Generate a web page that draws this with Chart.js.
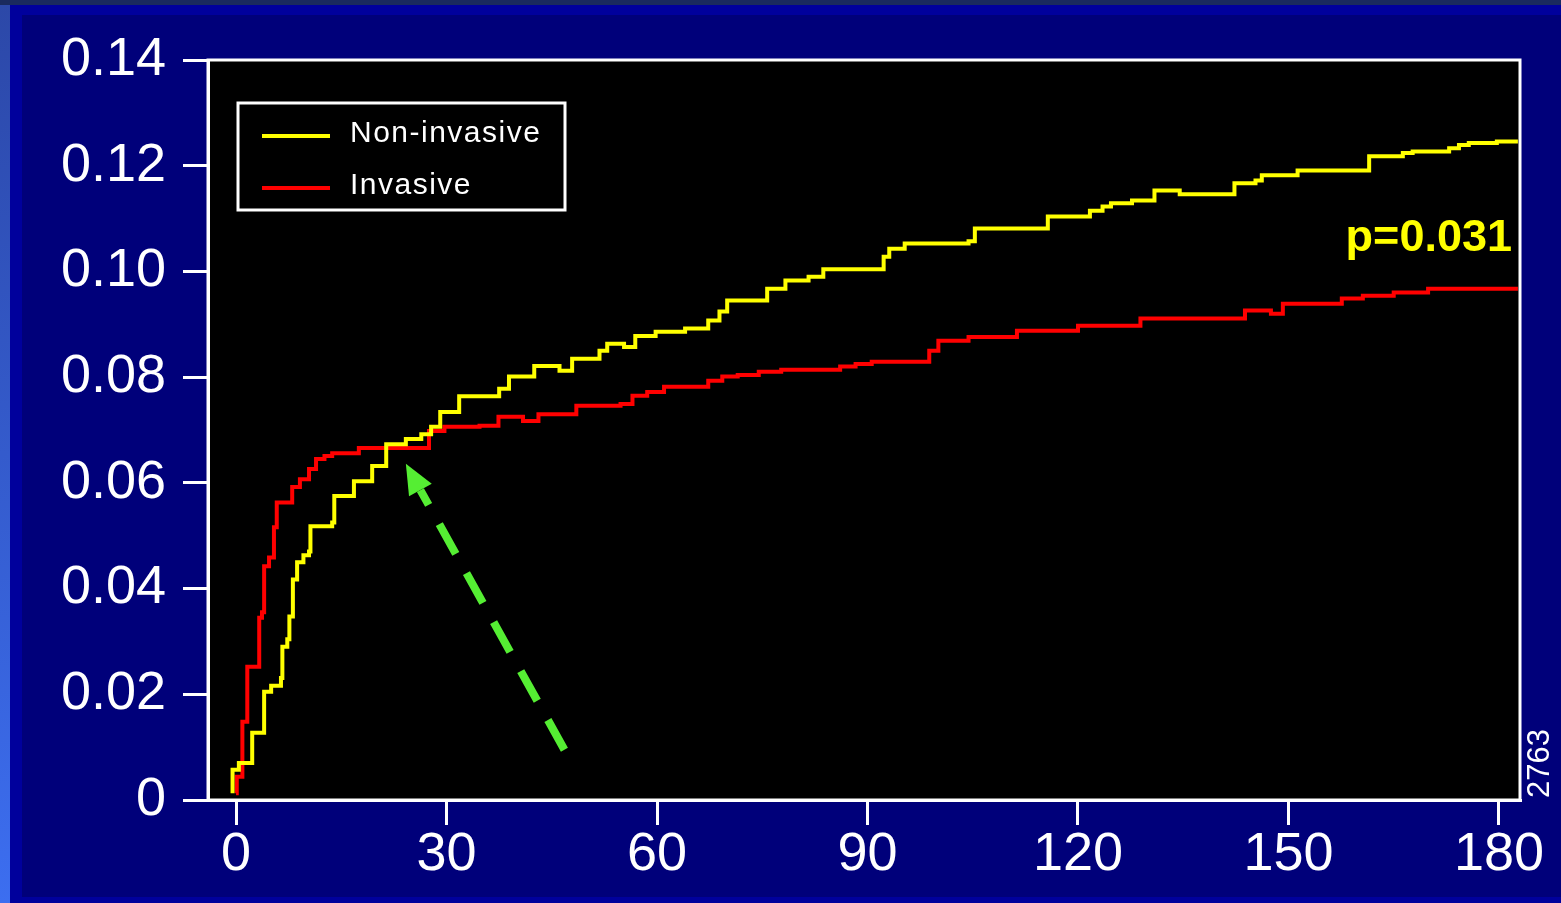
<!DOCTYPE html>
<html>
<head>
<meta charset="utf-8">
<script src="https://cdn.jsdelivr.net/npm/chart.js@4.4.1/dist/chart.umd.min.js"></script>
<style>
  html, body { margin: 0; padding: 0; overflow: hidden; background: #1a2a5e; }
  .bg { position: absolute; }
  #bg1 { left: 0; top: 5px; width: 1561px; height: 898px; background: linear-gradient(#2c48a8, #3c6ef0); }
  #bg2 { left: 10px; top: 5px; width: 1551px; height: 898px; background: #00009c; }
  #bg3 { left: 22px; top: 15px; width: 1539px; height: 882px; background: #00007a; }
  #c { position: absolute; left: 0; top: 0; }
</style>
</head>
<body>
<div class="bg" id="bg1"></div>
<div class="bg" id="bg2"></div>
<div class="bg" id="bg3"></div>
<canvas id="c" width="1561" height="903"></canvas>
<script>
// Cumulative event rate (days, rate)
const nonInvasiveDays = [-0.5, -0.5, 0.4, 2.3, 4.0, 5.0, 6.4, 6.6, 7.3, 7.6, 8.1, 8.7, 9.6, 10.4, 10.6, 13.7, 14.0, 16.8, 19.4, 21.4,
  24.2, 26.4, 27.8, 29.1, 31.8, 37.5, 38.9, 42.5, 46.1, 47.9, 51.8, 52.9, 55.3, 56.9, 59.8, 64.0, 67.3, 68.9, 70.0, 75.7,
  78.3, 81.6, 83.7, 92.3, 93.1, 95.3, 104.4, 105.3, 115.7, 121.7, 123.5, 124.7, 127.7, 130.9, 134.5, 142.3, 145.3, 146.2, 151.3, 161.5,
  166.3, 167.7, 172.9, 174.3, 175.7, 179.7, 182.7];
const nonInvasiveRate = [0.0013, 0.0057, 0.0070, 0.0127, 0.0205, 0.0216, 0.0231, 0.0290, 0.0304, 0.0347, 0.0417, 0.0450, 0.0463, 0.0470, 0.0518, 0.0525, 0.0575, 0.0603, 0.0632, 0.0673,
  0.0683, 0.0692, 0.0706, 0.0734, 0.0764, 0.0778, 0.0801, 0.0821, 0.0812, 0.0835, 0.0850, 0.0863, 0.0857, 0.0878, 0.0886, 0.0892, 0.0907, 0.0924, 0.0945, 0.0967,
  0.0983, 0.0990, 0.1004, 0.1028, 0.1043, 0.1053, 0.1057, 0.1081, 0.1104, 0.1115, 0.1123, 0.1129, 0.1134, 0.1153, 0.1146, 0.1167, 0.1172, 0.1182, 0.1191, 0.1218,
  0.1224, 0.1227, 0.1233, 0.1239, 0.1243, 0.1246, 0.1246];

const invasiveDays = [0, 0.1, 0.9, 0.9, 1.6, 1.6, 3.3, 3.7, 4.0, 4.7, 5.4, 5.8, 8.0, 9.1, 10.4, 11.4, 12.6, 13.7, 17.5, 27.5,
  29.7, 34.7, 37.4, 40.9, 43.1, 48.5, 54.8, 56.5, 58.6, 61.0, 67.3, 69.3, 71.5, 74.5, 77.7, 86.1, 88.3, 90.6, 98.8, 100.1,
  104.4, 111.3, 120.0, 128.9, 143.8, 147.5, 149.2, 157.6, 160.6, 165.0, 169.9, 182.7];
const invasiveRate = [0.0013, 0.0044, 0.0072, 0.0148, 0.0152, 0.0252, 0.0345, 0.0355, 0.0442, 0.0459, 0.0516, 0.0563, 0.0592, 0.0607, 0.0626, 0.0645, 0.0651, 0.0656, 0.0666, 0.0698,
  0.0706, 0.0708, 0.0725, 0.0717, 0.0730, 0.0746, 0.0749, 0.0765, 0.0772, 0.0782, 0.0793, 0.0801, 0.0804, 0.0810, 0.0814, 0.0820, 0.0825, 0.0829, 0.0850, 0.0869,
  0.0876, 0.0888, 0.0897, 0.0911, 0.0926, 0.0920, 0.0939, 0.0949, 0.0954, 0.0960, 0.0967, 0.0967];

const xTicks = [0, 30, 60, 90, 120, 150, 180];
const yTicks = [0, 0.02, 0.04, 0.06, 0.08, 0.10, 0.12, 0.14];

const pText = 'p=0.031';
const sideNote = '2763';
// green dashed arrow, in data units: from tail to tip
const arrowFrom = [46.8, 0.0095];
const arrowTo = [24.2, 0.0636];

const FONT = '"Liberation Sans", Arial, Helvetica, sans-serif';

function toPoints(xs, ys) {
  return xs.map((x, i) => ({ x: x, y: ys[i] }));
}

const framePlugin = {
  id: 'frame',
  beforeDraw(chart) {
    const { ctx, chartArea: a } = chart;
    ctx.save();
    ctx.fillStyle = '#000';
    ctx.fillRect(a.left, a.top, a.right - a.left, a.bottom - a.top);
    ctx.restore();
  },
  afterDraw(chart) {
    const { ctx, chartArea: a, scales } = chart;
    ctx.save();
    // plot frame
    ctx.strokeStyle = '#fff';
    ctx.lineWidth = 3;
    ctx.strokeRect(a.left, a.top, a.right - a.left, a.bottom - a.top);

    // legend box
    const lx = a.left + 30, ly = a.top + 43, lw = 327, lh = 107;
    ctx.fillStyle = '#000';
    ctx.fillRect(lx, ly, lw, lh);
    ctx.strokeRect(lx, ly, lw, lh);
    ctx.font = '30px ' + FONT;
    ctx.letterSpacing = '1.5px';
    ctx.textBaseline = 'middle';
    chart.data.datasets.forEach((ds, i) => {
      const yy = ly + 33 + i * 52;
      ctx.strokeStyle = ds.borderColor;
      ctx.lineWidth = 4;
      ctx.beginPath();
      ctx.moveTo(lx + 24, yy);
      ctx.lineTo(lx + 92, yy);
      ctx.stroke();
      ctx.fillStyle = '#fff';
      ctx.fillText(ds.label, lx + 112, yy - 2);
    });
    ctx.letterSpacing = '0px';

    // p value
    ctx.fillStyle = '#ffff00';
    ctx.font = 'bold 45px ' + FONT;
    ctx.textAlign = 'right';
    ctx.textBaseline = 'alphabetic';
    ctx.fillText(pText, a.right - 8, 251);

    // side note, rotated
    ctx.save();
    ctx.translate(a.right + 29, a.bottom - 2);
    ctx.rotate(-Math.PI / 2);
    ctx.textAlign = 'left';
    ctx.fillStyle = '#fff';
    ctx.font = '31px ' + FONT;
    ctx.fillText(sideNote, 0, 0);
    ctx.restore();

    // green dashed arrow
    const x0 = scales.x.getPixelForValue(arrowFrom[0]);
    const y0 = scales.y.getPixelForValue(arrowFrom[1]);
    const x1 = scales.x.getPixelForValue(arrowTo[0]);
    const y1 = scales.y.getPixelForValue(arrowTo[1]);
    const ang = Math.atan2(y1 - y0, x1 - x0);
    const headLen = 30, headW = 13;
    const bx = x1 - Math.cos(ang) * headLen;
    const by = y1 - Math.sin(ang) * headLen;
    ctx.strokeStyle = '#55ee33';
    ctx.fillStyle = '#55ee33';
    ctx.lineWidth = 8;
    ctx.setLineDash([34, 22]);
    ctx.beginPath();
    ctx.moveTo(x0, y0);
    ctx.lineTo(bx, by);
    ctx.stroke();
    ctx.setLineDash([]);
    ctx.beginPath();
    ctx.moveTo(x1, y1);
    ctx.lineTo(bx + Math.sin(ang) * headW, by - Math.cos(ang) * headW);
    ctx.lineTo(bx - Math.sin(ang) * headW, by + Math.cos(ang) * headW);
    ctx.closePath();
    ctx.fill();
    ctx.restore();
  }
};

const gridOpts = {
  drawOnChartArea: false,
  drawTicks: true,
  tickLength: 25,
  tickWidth: 3,
  tickColor: '#fff',
  color: '#fff',
  lineWidth: 3
};

new Chart(document.getElementById('c').getContext('2d'), {
  type: 'line',
  data: {
    datasets: [
      {
        label: 'Non-invasive',
        data: toPoints(nonInvasiveDays, nonInvasiveRate),
        borderColor: '#ffff00',
        borderWidth: 4,
        stepped: true,
        pointRadius: 0,
        fill: false
      },
      {
        label: 'Invasive',
        data: toPoints(invasiveDays, invasiveRate),
        borderColor: '#ff0000',
        borderWidth: 4,
        stepped: true,
        pointRadius: 0,
        fill: false
      }
    ]
  },
  options: {
    responsive: false,
    animation: false,
    layout: { padding: { top: 60, right: 41, left: 0, bottom: 0 } },
    plugins: {
      legend: { display: false },
      tooltip: { enabled: false }
    },
    scales: {
      x: {
        type: 'linear',
        min: -4,
        max: 183,
        afterFit: (s) => { s.height = 103; },
        afterBuildTicks: (s) => { s.ticks = xTicks.map(v => ({ value: v })); },
        border: { color: '#fff', width: 3 },
        grid: gridOpts,
        ticks: {
          color: '#fff',
          padding: 3,
          maxRotation: 0,
          autoSkip: false,
          font: { family: FONT, size: 54, lineHeight: 1 },
          callback: (v) => String(v)
        }
      },
      y: {
        min: 0,
        max: 0.14,
        afterFit: (s) => { s.width = 208; },
        afterBuildTicks: (s) => { s.ticks = yTicks.map(v => ({ value: v })); },
        border: { color: '#fff', width: 3 },
        grid: gridOpts,
        ticks: {
          color: '#fff',
          padding: 17,
          autoSkip: false,
          font: { family: FONT, size: 54, lineHeight: 1 },
          callback: (v) => v === 0 ? '0' : v.toFixed(2)
        }
      }
    }
  },
  plugins: [framePlugin]
});
</script>
</body>
</html>
